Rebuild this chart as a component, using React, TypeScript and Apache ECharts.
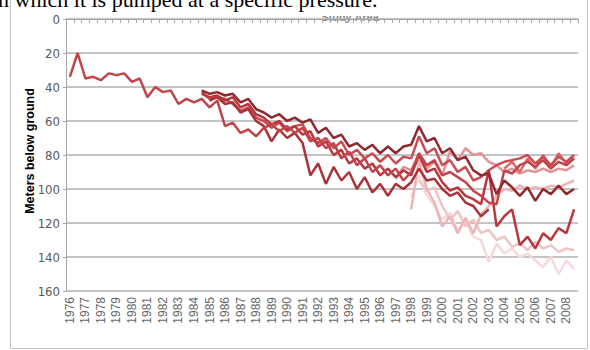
import React, { useEffect, useRef } from "react";
import * as echarts from "echarts";

const years = [
  "1976", "1977", "1978", "1979", "1980", "1981", "1982", "1983", "1984", "1985", "1986",
  "1987", "1988", "1989", "1990", "1991", "1992", "1993", "1994", "1995", "1996", "1997",
  "1998", "1999", "2000", "2001", "2002", "2003", "2004", "2005", "2006", "2007", "2008",
];
const seasons = ["H1", "H2"];
const categories = years.flatMap((y) => seasons.map((s) => y + " " + s));

const yTicks = { min: 0, max: 160, interval: 20 };

// well series: start index (half-year) + depth values (m below ground)
const wellAStart = 0;
const wellA = [34, 20, 35, 34, 36, 32, 33, 32, 37, 35, 46, 40, 43, 42, 50, 47, 49, 47, 52, 48,
  63, 61, 67, 65, 69, 64, 62, 66, 63, 67, 64, 72, 70, 76, 73, 82, 78, 86, 82, 90,
  86, 92, 88, 95, 90, 79, 86, 83, 92, 90, 93, 96, 101, 104, 108, 109, 89, 91, 86, 84,
  87, 83, 88, 84, 86, 82];
const wellBStart = 17;
const wellB = [42, 44, 43, 45, 44, 49, 47, 53, 55, 58, 56, 60, 58, 61, 59, 67, 64, 70, 68, 75,
  73, 77, 74, 79, 75, 79, 75, 74, 63, 72, 70, 79, 76, 83, 81, 89, 92, 91, 103, 95,
  99, 104, 99, 107, 100, 103, 98, 103, 100];
const wellCStart = 17;
const wellC = [44, 46, 45, 48, 46, 52, 50, 56, 58, 62, 60, 65, 63, 68, 66, 75, 72, 80, 77, 85,
  82, 88, 85, 92, 88, 93, 89, 92, 80, 90, 88, 96, 101, 99, 104, 106, 109, 89, 122, 116,
  112, 133, 128, 135, 126, 130, 123, 126, 112];
const wellDStart = 17;
const wellD = [43, 47, 46, 47, 50, 54, 52, 58, 60, 64, 61, 66, 63, 62, 70, 73, 70, 76, 72, 80,
  77, 82, 79, 84, 80, 85, 81, 82, 69, 79, 76, 86, 83, 90, 87, 95, 93, 89, 86, 84,
  83, 82, 80, 85, 81, 86, 81, 84, 80];
const wellEStart = 18;
const wellE = [48, 46, 50, 49, 55, 53, 60, 63, 72, 65, 70, 67, 73, 92, 85, 97, 87, 95, 90, 100,
  93, 102, 97, 104, 97, 100, 96, 88, 95, 94, 100, 104, 102, 108, 110, 116, 112];
const wellFStart = 42;
const wellF = [94, 87, 89, 80, 88, 84, 92, 78, 83, 76, 80, 79, 84, 86, 90, 88, 91, 89, 90, 88,
  90, 88, 89, 86];
const wellGStart = 44;
const wellG = [112, 83, 100, 108, 122, 116, 126, 117, 126, 115, 110, 104, 100, 101, 98, 100,
  99, 100, 98, 99, 97, 95];
const wellHStart = 45;
const wellH = [95, 101, 99, 110, 118, 113, 122, 118, 126, 124, 130, 128, 134, 132, 136, 131,
  135, 133, 137, 135, 136];
const wellIStart = 44;
const wellI = [105, 92, 104, 110, 118, 114, 124, 119, 128, 130, 143, 132, 138, 135, 140, 138,
  142, 146, 140, 150, 142, 147];
const wellKStart = 56;
const wellK = [88, 84, 90, 82, 88, 80, 87, 79, 85, 82];

const pad = (start: number, vals: number[]) =>
  [...new Array(start).fill(null), ...vals];

const wells = [
  { name: "I", start: wellIStart, vals: wellI, color: "#f6d9db" },
  { name: "H", start: wellHStart, vals: wellH, color: "#f0c3c5" },
  { name: "G", start: wellGStart, vals: wellG, color: "#edb3b5" },
  { name: "F", start: wellFStart, vals: wellF, color: "#e39295" },
  { name: "K", start: wellKStart, vals: wellK, color: "#d8686c" },
  { name: "D", start: wellDStart, vals: wellD, color: "#c84c52" },
  { name: "E", start: wellEStart, vals: wellE, color: "#a8343a" },
  { name: "C", start: wellCStart, vals: wellC, color: "#b8363c" },
  { name: "A", start: wellAStart, vals: wellA, color: "#c0454b" },
  { name: "B", start: wellBStart, vals: wellB, color: "#8e2a30" },
];

export default function App() {
  const ref = useRef<HTMLDivElement>(null);
  useEffect(() => {
    if (!ref.current) return;
    const chart = echarts.init(ref.current, null, { renderer: "svg" });
    chart.setOption({
      animation: false,
      backgroundColor: "#ffffff",
      grid: { left: 66, right: 12, top: 19, bottom: 59, containLabel: false },
      xAxis: {
        type: "category",
        data: categories,
        boundaryGap: true,
        axisLine: { lineStyle: { color: "#a6a6a6", width: 1 } },
        axisTick: { show: true, interval: 0, length: 4, lineStyle: { color: "#a6a6a6" } },
        axisLabel: {
          interval: 1,
          rotate: 90,
          margin: 6,
          color: "#666666",
          fontSize: 12,
          fontFamily: "Arial, 'Liberation Sans', sans-serif",
          formatter: (v: string) => v.slice(0, 4),
        },
        splitLine: { show: false },
      },
      yAxis: {
        type: "value",
        inverse: true,
        min: yTicks.min,
        max: yTicks.max,
        interval: yTicks.interval,
        axisLine: { show: true, lineStyle: { color: "#a6a6a6", width: 1 } },
        axisTick: { show: true, length: 3, lineStyle: { color: "#a6a6a6" } },
        axisLabel: {
          margin: 6,
          color: "#595959",
          fontSize: 13,
          fontFamily: "'Liberation Sans Narrow', 'DejaVu Sans Condensed', Arial, sans-serif",
        },
        splitLine: { lineStyle: { color: "#b0b0b0", width: 1.5 } },
      },
      series: wells.map((w) => ({
        name: w.name,
        type: "line",
        data: pad(w.start, w.vals),
        showSymbol: false,
        connectNulls: false,
        lineStyle: { color: w.color, width: 2.5 },
        itemStyle: { color: w.color },
      })),
      graphic: [
        {
          type: "rect",
          shape: { x: 10.5, y: -5, width: 577, height: 353.5 },
          style: { fill: "none", stroke: "#c4c4c4", lineWidth: 1 },
          silent: true,
        },
        {
          type: "text",
          x: 350,
          y: 11,
          style: {
            text: "Study Area",
            font: "bold 11px Arial",
            fill: "#8a8a8a",
            textAlign: "center",
            textVerticalAlign: "top",
          },
          silent: true,
        },
        {
          type: "rect",
          shape: { x: 280, y: 11, width: 150, height: 5 },
          style: { fill: "#ffffff" },
          silent: true,
        },
        {
          type: "text",
          x: -2,
          y: 10,
          style: {
            text: "n which it is pumped at a specific pressure.",
            font: "22px 'Liberation Serif', 'Times New Roman', serif",
            fill: "#000000",
            textAlign: "left",
            textVerticalAlign: "bottom",
          },
          silent: true,
        },
        {
          type: "text",
          x: 30,
          y: 151,
          rotation: Math.PI / 2,
          style: {
            text: "Meters below ground",
            font: "bold 12.5px Arial, 'Liberation Sans', sans-serif",
            fill: "#000000",
            textAlign: "center",
            textVerticalAlign: "middle",
          },
          silent: true,
        },
      ],
    });
    return () => chart.dispose();
  }, []);
  return <div ref={ref} style={{ position: "fixed", left: 0, top: 0, width: 590, height: 350 }} />;
}
